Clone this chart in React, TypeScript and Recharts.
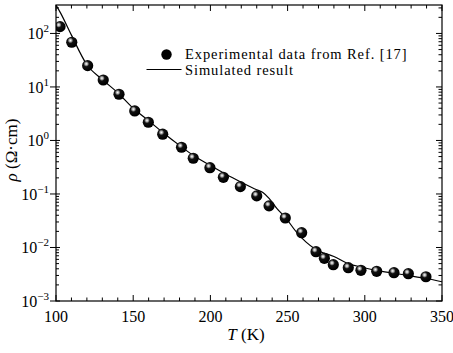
import {
  ComposedChart,
  Line,
  Scatter,
  XAxis,
  YAxis,
  Legend,
} from "recharts";

// experimental points (Ref. [17])
const expT = [102.6, 110.2, 120.5, 130.6, 140.8, 151, 159.8, 169.1, 181.3, 188.9, 199.7, 208.4, 219.4, 230, 238, 248.5, 259.1, 268.4, 273.8, 279.6, 289.3, 297.5, 307.7, 318.9, 328.2, 339.6];
const expRho = [134, 68.5, 25, 13.5, 7.3, 3.56, 2.19, 1.31, 0.746, 0.465, 0.31, 0.205, 0.137, 0.092, 0.06, 0.0356, 0.0189, 0.00834, 0.00628, 0.00477, 0.00419, 0.00375, 0.00359, 0.00338, 0.00324, 0.00284];

// simulated curve
const simT = [100, 103, 110, 120, 130, 140, 150, 160, 170, 180, 190, 200, 210, 220, 230, 234, 238, 243, 249, 256, 262, 268, 280, 290, 298, 308, 319, 328, 340, 350];
const simRho = [340, 240, 93, 26, 13.8, 7.8, 4, 2.34, 1.35, 0.81, 0.5, 0.34, 0.234, 0.166, 0.12, 0.107, 0.083, 0.054, 0.035, 0.019, 0.0126, 0.0093, 0.0068, 0.0049, 0.0043, 0.0037, 0.0033, 0.003, 0.00263, 0.00229];

const xTicks = [100, 110, 120, 130, 140, 150, 160, 170, 180, 190, 200, 210, 220, 230, 240, 250, 260, 270, 280, 290, 300, 310, 320, 330, 340, 350];
const xLabels = [100, 150, 200, 250, 300, 350];
const yDecades = [0.001, 0.01, 0.1, 1, 10, 100];
const yExponents = ["−3", "−2", "−1", "0", "1", "2"];
const yMantissas = [1, 2, 3, 4, 5, 6, 7, 8, 9];

const expData = expT.map((T, i) => ({ T, rho: expRho[i] }));
const simData = simT.map((T, i) => ({ T, rho: simRho[i] }));
const yTicks: number[] = [];
yDecades.forEach((d) => yMantissas.forEach((m) => {
  const v = +(d * m).toPrecision(3);
  if (v <= 340) yTicks.push(v);
}));

// plot frame (layout)
const L = 56;
const R = 442;
const TOP = 5;
const BOT = 301;
const serif = {
  fontFamily: "'Times New Roman', Times, 'Liberation Serif', 'DejaVu Serif', 'Noto Serif', serif",
};

function XTick(props: any) {
  const { x, payload } = props;
  const v = payload.value;
  const major = xLabels.includes(v);
  const len = major ? 6 : 3.5;
  return (
    <g>
      {v === 100 && (
        <rect x={L} y={TOP} width={R - L} height={BOT - TOP} fill="none" stroke="#000" strokeWidth={1.2} />
      )}
      <line x1={x} x2={x} y1={BOT} y2={BOT - len} stroke="#000" />
      <line x1={x} x2={x} y1={TOP} y2={TOP + len} stroke="#000" />
      {major && (
        <text x={x} y={322} textAnchor="middle" style={serif} fontSize={16} fill="#000">
          {v}
        </text>
      )}
    </g>
  );
}

function YTick(props: any) {
  const { y, payload } = props;
  const v = payload.value;
  const di = yDecades.indexOf(v);
  const major = di >= 0;
  return (
    <g>
      {major ? (
        <line x1={L - 6} x2={L + 4} y1={y} y2={y} stroke="#000" />
      ) : (
        <line x1={L} x2={L + 3} y1={y} y2={y} stroke="#000" />
      )}
      <line x1={R} x2={R - (major ? 6 : 3.5)} y1={y} y2={y} stroke="#000" />
      {major && (
        <text x={49} y={y + 6} textAnchor="end" style={serif} fontSize={16} fill="#000">
          10
          <tspan dy={-7} fontSize={11}>{yExponents[di]}</tspan>
        </text>
      )}
    </g>
  );
}

function Ball(props: any) {
  const { cx, cy } = props;
  if (cx == null || cy == null) return null;
  return (
    <g>
      <defs>
        <radialGradient id="ball" cx="38%" cy="34%" r="60%">
          <stop offset="0%" stopColor="#fff" />
          <stop offset="20%" stopColor="#aaa" />
          <stop offset="42%" stopColor="#111" />
          <stop offset="100%" stopColor="#000" />
        </radialGradient>
      </defs>
      <circle cx={cx} cy={cy} r={5.6} fill="url(#ball)" />
    </g>
  );
}

function LegendBox() {
  return (
    <svg width={310} height={46} style={{ display: "block", overflow: "visible" }}>
      <circle cx={26.5} cy={9.5} r={5.2} fill="#000" />
      <text x={45} y={14} style={serif} fontSize={14.5} letterSpacing={0.9} fill="#000">
        Experimental data from Ref. [17]
      </text>
      <line x1={6.5} x2={41.5} y1={24.5} y2={24.5} stroke="#000" strokeWidth={1.2} />
      <text x={45} y={29.5} style={serif} fontSize={14.5} letterSpacing={0.9} fill="#000">
        Simulated result
      </text>
    </svg>
  );
}

export default function App() {
  return (
    <div style={{ position: "absolute", left: 0, top: 0, width: 453, height: 353, background: "#fff" }}>
      <ComposedChart width={453} height={353} margin={{ top: TOP, right: 453 - R, bottom: 0, left: 0 }}>
        <XAxis
          type="number"
          dataKey="T"
          domain={[100, 350]}
          ticks={xTicks}
          interval={0}
          allowDataOverflow
          height={353 - BOT}
          tickLine={false}
          axisLine={false}
          tick={<XTick />}
          label={{
            content: () => (
              <text x={246} y={340} textAnchor="middle" style={serif} fontSize={17} fill="#000">
                <tspan fontStyle="italic">T</tspan> (K)
              </text>
            ),
          }}
        />
        <YAxis
          type="number"
          dataKey="rho"
          scale="log"
          domain={[0.001, 340]}
          ticks={yTicks}
          interval={0}
          allowDataOverflow
          width={L}
          tickLine={false}
          axisLine={false}
          tick={<YTick />}
          label={{
            content: () => (
              <text
                x={17}
                y={150}
                textAnchor="middle"
                transform="rotate(-90 17 150)"
                style={serif}
                fontSize={17}
                fill="#000"
              >
                <tspan fontStyle="italic">ρ</tspan> (Ω·cm)
              </text>
            ),
          }}
        />
        <Legend
          layout="horizontal"
          verticalAlign="middle"
          align="center"
          wrapperStyle={{ left: 140, top: 45, width: 310, height: 46 }}
          content={() => <LegendBox />}
        />
        <Line
          data={simData}
          dataKey="rho"
          type="monotone"
          stroke="#000"
          strokeWidth={1.2}
          dot={false}
          activeDot={false}
          isAnimationActive={false}
        />
        <Scatter data={expData} dataKey="rho" shape={<Ball />} isAnimationActive={false} />
      </ComposedChart>
    </div>
  );
}
